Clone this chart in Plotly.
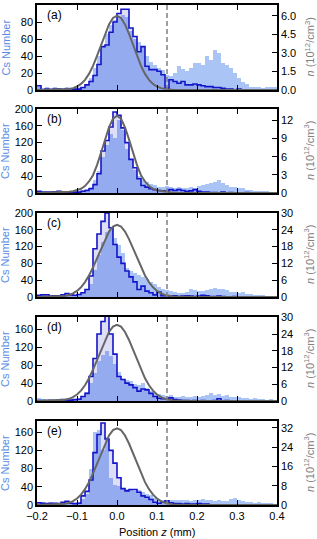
import numpy as np
import plotly.graph_objects as go

# ---------------- data ----------------
BIN_EDGES = np.round(np.linspace(-0.2, 0.4, 61), 4)   # mm, 0.01 mm bins
PANEL_LABELS = ["(a)", "(b)", "(c)", "(d)", "(e)"]

# light blue histogram (all atoms)
hist_all_a = [3,2,3,2,3,2,2,3,2,2, 3,4,6,14,26,40,52,66,76,82, 86,88,86,70,60,56,52,40,33,30,
              26,24,18,16,20,28,25,22,26,32, 32,30,40,35,47,43,32,30,26,20, 14,10,7,4,3,4,2,4,4,3]
hist_all_b = [3,3,2,3,4,3,3,4,3,3, 4,6,10,14,30,52,85,115,140,130, 175,150,105,80,55,40,32,26,22,18,
              15,14,16,14,12,14,12,13,14,12, 16,18,22,24,26,30,24,20,14,14, 12,12,8,6,5,5,4,5,3,2]
hist_all_c = [3,2,3,2,3,4,3,4,5,4, 6,9,16,32,65,100,130,155,160,140, 125,105,68,62,58,52,48,42,36,32,
              24,20,16,14,12,10,10,12,18,16, 14,14,16,20,22,20,18,16,12,12, 10,12,6,6,4,5,4,3,3,2]
hist_all_d = [6,5,4,4,3,4,4,5,4,5, 6,8,20,40,62,90,104,112,100,82, 65,50,48,45,38,36,40,30,22,18,
              16,14,12,13,10,9,11,9,10,12, 10,12,14,18,14,16,12,13,10,9, 10,7,6,5,6,4,5,3,4,3]
hist_all_e = [6,7,5,6,5,4,5,6,7,5, 6,14,25,80,160,165,120,150,60,45, 42,38,35,32,30,32,28,24,22,16,
              12,10,12,10,12,11,10,12,9,10, 12,13,11,10,9,10,8,9,14,15, 10,8,7,6,5,6,5,4,5,3]

# dark blue outlined histogram (selected atoms)
hist_sel_a = [5,0,1,0,1,1,0,1,0,1, 1,3,6,10,17,30,51,53,68,80, 90,95,95,73,63,45,51,28,24,24,
              22,18,2,12,10,8,10,6,6,7, 6,5,4,4,3,3,2,1,1,0, 1,0,0,0,0,0,0,0,0,0]
hist_sel_b = [4,2,2,2,3,4,2,2,1,2, 2,4,6,10,20,46,100,125,157,193, 185,155,120,80,60,34,18,14,10,8,
              6,5,4,8,6,8,6,4,5,8, 4,2,2,1,1,0,2,0,1,0, 0,0,1,0,0,0,0,0,0,0]
hist_sel_c = [4,5,5,2,3,3,5,8,5,4, 6,10,18,50,115,150,180,200,165,125, 95,80,62,48,36,18,26,14,10,5,
              12,3,3,2,3,1,2,3,2,1, 2,4,3,1,1,2,1,0,0,1, 0,0,0,0,0,0,0,0,0,0]
hist_sel_d = [1,1,0,1,1,2,3,2,2,3, 4,10,17,55,95,150,178,195,150,105, 55,48,40,36,30,22,27,25,17,10,
              6,5,5,7,3,2,1,1,0,1, 0,1,0,0,1,5,0,1,0,0, 0,0,0,0,0,0,0,0,0,0]
hist_sel_e = [5,4,3,4,4,3,6,8,4,3, 4,20,30,55,115,155,180,145,120,92, 60,36,31,34,34,28,20,17,12,6,
              4,6,9,5,3,3,2,3,2,2, 3,2,2,0,0,0,0,0,0,0, 0,0,0,0,0,0,0,0,0,0]

# density profile curves (right axis, 10^12 cm^-3), read at these positions
curve_z = [-0.20, -0.14, -0.13, -0.12, -0.11, -0.10, -0.09, -0.08, -0.07, -0.06, -0.05, -0.04,
           -0.03, -0.02, -0.01, 0.00, 0.01, 0.02, 0.03, 0.04, 0.05, 0.06, 0.07, 0.08, 0.09,
           0.10, 0.11, 0.12, 0.13, 0.14, 0.20, 0.40]
curve_a = [0.0, 0.02, 0.04, 0.08, 0.15, 0.28, 0.49, 0.82, 1.30, 1.95, 2.75, 3.64, 4.53, 5.29, 5.81,
           6.0, 5.81, 5.29, 4.53, 3.64, 2.75, 1.95, 1.30, 0.82, 0.49, 0.28, 0.15, 0.08, 0.04, 0.02, 0.0, 0.0]
curve_b = [0.0, 0.06, 0.12, 0.2, 0.3, 0.45, 0.7, 1.15, 1.9, 2.94, 4.61, 6.66, 8.87, 10.87, 12.29,
           12.8, 12.29, 10.87, 8.87, 6.66, 4.61, 2.94, 1.9, 1.15, 0.7, 0.45, 0.3, 0.2, 0.12, 0.06, 0.0, 0.0]
curve_c = [0.0, 0.20, 0.40, 0.74, 1.30, 2.19, 3.48, 5.31, 7.69, 10.60, 13.91, 17.39, 20.67, 23.37, 25.18,
           25.8, 25.18, 23.37, 20.67, 17.39, 13.91, 10.60, 7.69, 5.31, 3.48, 2.19, 1.30, 0.74, 0.40, 0.20, 0.0, 0.0]
curve_d = [0.0, 0.22, 0.42, 0.78, 1.38, 2.32, 3.70, 5.64, 8.17, 11.26, 14.77, 18.47, 21.95, 24.82, 26.74,
           27.4, 26.74, 24.82, 21.95, 18.47, 14.77, 11.26, 8.17, 5.64, 3.70, 2.32, 1.38, 0.78, 0.42, 0.22, 0.0, 0.0]
curve_e = [0.0, 0.25, 0.49, 0.91, 1.60, 2.69, 4.29, 6.55, 9.48, 13.07, 17.14, 21.43, 25.47, 28.81, 31.04,
           31.8, 31.04, 28.81, 25.47, 21.43, 17.14, 13.07, 9.48, 6.55, 4.29, 2.69, 1.60, 0.91, 0.49, 0.25, 0.0, 0.0]

CUTOFF_Z = 0.125   # dashed line position (mm)

# axis settings
x_ticks = [-0.2, -0.1, 0.0, 0.1, 0.2, 0.3, 0.4]
x_ticktext = ["\u22120.2", "\u22120.1", "0.0", "0.1", "0.2", "0.3", "0.4"]
left_ranges = [100, 200, 200, 188, 184.5]
left_ticks = [[0, 20, 40, 60, 80, 100], [0, 40, 80, 120, 160, 200], [0, 40, 80, 120, 160, 200],
              [0, 40, 80, 120, 160], [0, 40, 80, 120, 160]]
right_ranges = [6.86, 13.9, 30, 30.2, 34.8]
right_ticks = [[0, 1.5, 3.0, 4.5, 6.0], [0, 3, 6, 9, 12], [0, 6, 12, 18, 24, 30],
               [0, 6, 12, 18, 24, 30], [0, 8, 16, 24, 32]]
right_ticktext = [["0.0", "1.5", "3.0", "4.5", "6.0"], None, None, None, None]

hist_all = [hist_all_a, hist_all_b, hist_all_c, hist_all_d, hist_all_e]
hist_sel = [hist_sel_a, hist_sel_b, hist_sel_c, hist_sel_d, hist_sel_e]
curves = [curve_a, curve_b, curve_c, curve_d, curve_e]

# ---------------- layout geometry (pixels) ----------------
W, H = 317, 539
X0, X1 = 37, 277
PANEL_PX = [(5, 90), (109, 193), (213, 297), (317, 401), (421, 505)]

FONT = "Liberation Sans"
LIGHT = "rgba(100,149,237,0.55)"
SELFILL = "rgba(0,0,205,0.13)"
DARK = "#1414c8"
GRAY = "#666666"
LABEL_BLUE = "#5a8be6"
LABEL_GRAY = "#808080"

centers = (BIN_EDGES[:-1] + BIN_EDGES[1:]) / 2
widths = BIN_EDGES[1:] - BIN_EDGES[:-1]


def sfx(n):
    return "" if n == 1 else str(n)


fig = go.Figure()
layout = dict(
    width=W, height=H, margin=dict(l=0, r=0, t=0, b=0, pad=0), autosize=False,
    paper_bgcolor="white", plot_bgcolor="white",
    barmode="overlay", bargap=0, showlegend=False,
    font=dict(family=FONT, size=11, color="black"),
)
annotations = []
shapes = []

for k in range(5):
    n = k + 1
    xa = "x" + sfx(n)
    ya = "y" + sfx(n)
    ya2 = "y" + sfx(n + 5)
    top, bot = PANEL_PX[k]
    dom_y = [1 - bot / H, 1 - top / H]

    fig.add_trace(go.Bar(x=centers, y=hist_all[k], width=widths, marker=dict(color=LIGHT, line=dict(width=0)),
                         xaxis=xa, yaxis=ya, hoverinfo="skip"))
    fig.add_trace(go.Bar(x=centers, y=hist_sel[k], width=widths, marker=dict(color=SELFILL, line=dict(width=0)),
                         xaxis=xa, yaxis=ya, hoverinfo="skip"))
    fig.add_trace(go.Scatter(x=list(BIN_EDGES), y=list(hist_sel[k]) + [hist_sel[k][-1]], mode="lines",
                             line=dict(color=DARK, width=1.6, shape="hv"), xaxis=xa, yaxis=ya))
    fig.add_trace(go.Scatter(x=curve_z, y=curves[k], mode="lines", line=dict(color=GRAY, width=2),
                             xaxis=xa, yaxis=ya2))

    layout["xaxis" + sfx(n)] = dict(
        domain=[X0 / W, X1 / W], anchor=ya, range=[-0.2, 0.4], automargin=False,
        tickvals=x_ticks, ticktext=x_ticktext, showticklabels=(k == 4),
        ticks="inside", ticklen=5, tickwidth=1, tickcolor="black",
        showline=True, linecolor="black", linewidth=1.5, mirror="ticks",
        showgrid=False, zeroline=False, tickfont=dict(size=11),
    )
    layout["yaxis" + sfx(n)] = dict(
        domain=dom_y, anchor=xa, range=[0, left_ranges[k]], tickvals=left_ticks[k], automargin=False,
        ticks="inside", ticklen=5, tickwidth=1, tickcolor="black",
        showline=True, linecolor="black", linewidth=1.5, showgrid=False, zeroline=False,
        tickfont=dict(size=11),
    )
    r = dict(
        overlaying=ya, side="right", anchor=xa, range=[0, right_ranges[k]], tickvals=right_ticks[k],
        ticks="inside", ticklen=5, tickwidth=1, tickcolor="black", automargin=False,
        showline=True, linecolor="black", linewidth=1.5, showgrid=False, zeroline=False,
        tickfont=dict(size=11),
    )
    if right_ticktext[k] is not None:
        r["ticktext"] = right_ticktext[k]
    layout["yaxis" + sfx(n + 5)] = r

    shapes.append(dict(type="line", xref=xa, yref=ya + " domain", x0=CUTOFF_Z, x1=CUTOFF_Z, y0=0, y1=1,
                       line=dict(color="#808080", width=1.5, dash="5px,3px")))
    annotations.append(dict(text=PANEL_LABELS[k], xref=xa + " domain", yref=ya + " domain",
                            x=0.035, y=1 - 10 / (bot - top), xanchor="left", yanchor="middle",
                            showarrow=False, font=dict(size=12, color="black")))
    mid = 1 - (top + bot) / 2 / H
    annotations.append(dict(text="Cs Number", xref="paper", yref="paper", x=5 / W, y=mid,
                            textangle=-90, showarrow=False, xanchor="center", yanchor="middle",
                            font=dict(size=11, color=LABEL_BLUE)))
    annotations.append(dict(text="<i>n</i> (10<sup>12</sup>/cm<sup>3</sup>)", xref="paper", yref="paper",
                            x=309 / W, y=mid, textangle=-90, showarrow=False,
                            xanchor="center", yanchor="middle", font=dict(size=11, color=LABEL_GRAY)))

annotations.append(dict(text="Position <i>z</i> (mm)", xref="paper", yref="paper",
                        x=(X0 + X1) / 2 / W, y=1 - 532 / H, showarrow=False,
                        xanchor="center", yanchor="middle", font=dict(size=11, color="black")))

layout["annotations"] = annotations
layout["shapes"] = shapes
fig.update_layout(**layout)
fig.write_html("out.html", config={"displayModeBar": False},
               post_script="document.body.style.margin='0';document.body.style.overflow='hidden';")
